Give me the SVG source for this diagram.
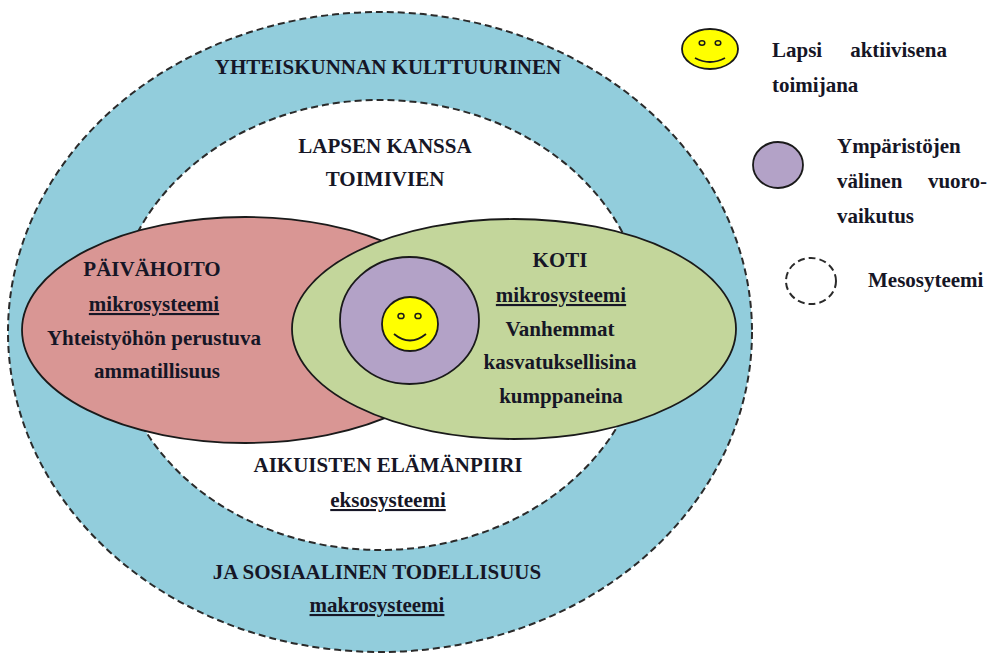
<svg xmlns="http://www.w3.org/2000/svg" width="992" height="655" viewBox="0 0 992 655">
<style>
text{font-family:'Liberation Serif','DejaVu Serif','Times New Roman',Times,serif;font-weight:700;font-size:21px;fill:#161626}
.c{text-anchor:middle}
.u{text-decoration:underline}
.dash{stroke:#2a2a2a;stroke-width:2;stroke-dasharray:7 4;}
.solid{stroke:#1a1a1a;stroke-width:1.8}
.face{fill:#ffff00;stroke:#1a1a1a;stroke-width:1.8}
.eye{fill:#ffff00;stroke:#1a1a1a;stroke-width:1.5}
.smile{fill:none;stroke:#1a1a1a;stroke-width:1.8}
</style>
<rect width="992" height="655" fill="#ffffff"/>
<g font-family="Liberation Serif, DejaVu Serif, serif">
<g id="makrosysteemi">
<ellipse cx="380" cy="332" rx="372" ry="320" fill="#92cddc" class="dash"/>
<text class="c" x="388" y="74">YHTEISKUNNAN KULTTUURINEN</text>
<text class="c" x="377" y="579">JA SOSIAALINEN TODELLISUUS</text>
<text class="c u" x="377" y="612">makrosysteemi</text>
</g>
<g id="eksosysteemi">
<ellipse cx="380" cy="325" rx="266" ry="225" fill="#ffffff" class="dash"/>
<text class="c" x="385" y="153">LAPSEN KANSSA</text>
<text class="c" x="385" y="186">TOIMIVIEN</text>
<text class="c" x="388" y="472">AIKUISTEN ELÄMÄNPIIRI</text>
<text class="c u" x="388" y="507">eksosysteemi</text>
</g>
<g id="paivahoito">
<ellipse cx="245" cy="330" rx="223" ry="113" fill="#d99694" class="solid"/>
<text class="c" x="152" y="276">PÄIVÄHOITO</text>
<text class="c u" x="154" y="311">mikrosysteemi</text>
<text class="c" x="154" y="345">Yhteistyöhön perustuva</text>
<text class="c" x="157" y="378">ammatillisuus</text>
</g>
<g id="koti">
<ellipse cx="514" cy="329" rx="222" ry="110" fill="#c3d69b" class="solid"/>
<text class="c" x="560" y="267">KOTI</text>
<text class="c u" x="561" y="302">mikrosysteemi</text>
<text class="c" x="560" y="336">Vanhemmat</text>
<text class="c" x="560" y="369">kasvatuksellisina</text>
<text class="c" x="561" y="403">kumppaneina</text>
</g>
<g id="mesosysteemi">
<ellipse cx="409.5" cy="320.5" rx="69.5" ry="63.5" fill="#b3a2c7" class="solid"/>
</g>
<g id="lapsi">
<ellipse cx="410" cy="324" rx="28" ry="27" class="face"/>
<ellipse cx="401" cy="316" rx="3" ry="2.6" class="eye"/>
<ellipse cx="418" cy="316" rx="3" ry="2.6" class="eye"/>
<path d="M394 334 Q410 347 426 334" class="smile"/>
</g>
<g id="legend-lapsi">
<ellipse cx="710" cy="49" rx="28" ry="20" class="face"/>
<ellipse cx="702" cy="43" rx="2.8" ry="2.2" class="eye"/>
<ellipse cx="718" cy="43" rx="2.8" ry="2.2" class="eye"/>
<path d="M695 58 Q710 66 725 58" class="smile"/>
<text x="772" y="57">Lapsi</text>
<text x="947" y="57" text-anchor="end">aktiivisena</text>
<text x="772" y="92">toimijana</text>
</g>
<g id="legend-vuorovaikutus">
<ellipse cx="778" cy="165" rx="25" ry="23" fill="#b3a2c7" class="solid"/>
<text x="837" y="153">Ympäristöjen</text>
<text x="837" y="188">välinen</text>
<text x="987" y="188" text-anchor="end">vuoro-</text>
<text x="837" y="223">vaikutus</text>
</g>
<g id="legend-mesosysteemi">
<ellipse cx="811" cy="281" rx="25" ry="23" fill="none" class="dash"/>
<text x="868" y="287">Mesosyteemi</text>
</g>
<g id="connectors"></g>
</g>
</svg>
